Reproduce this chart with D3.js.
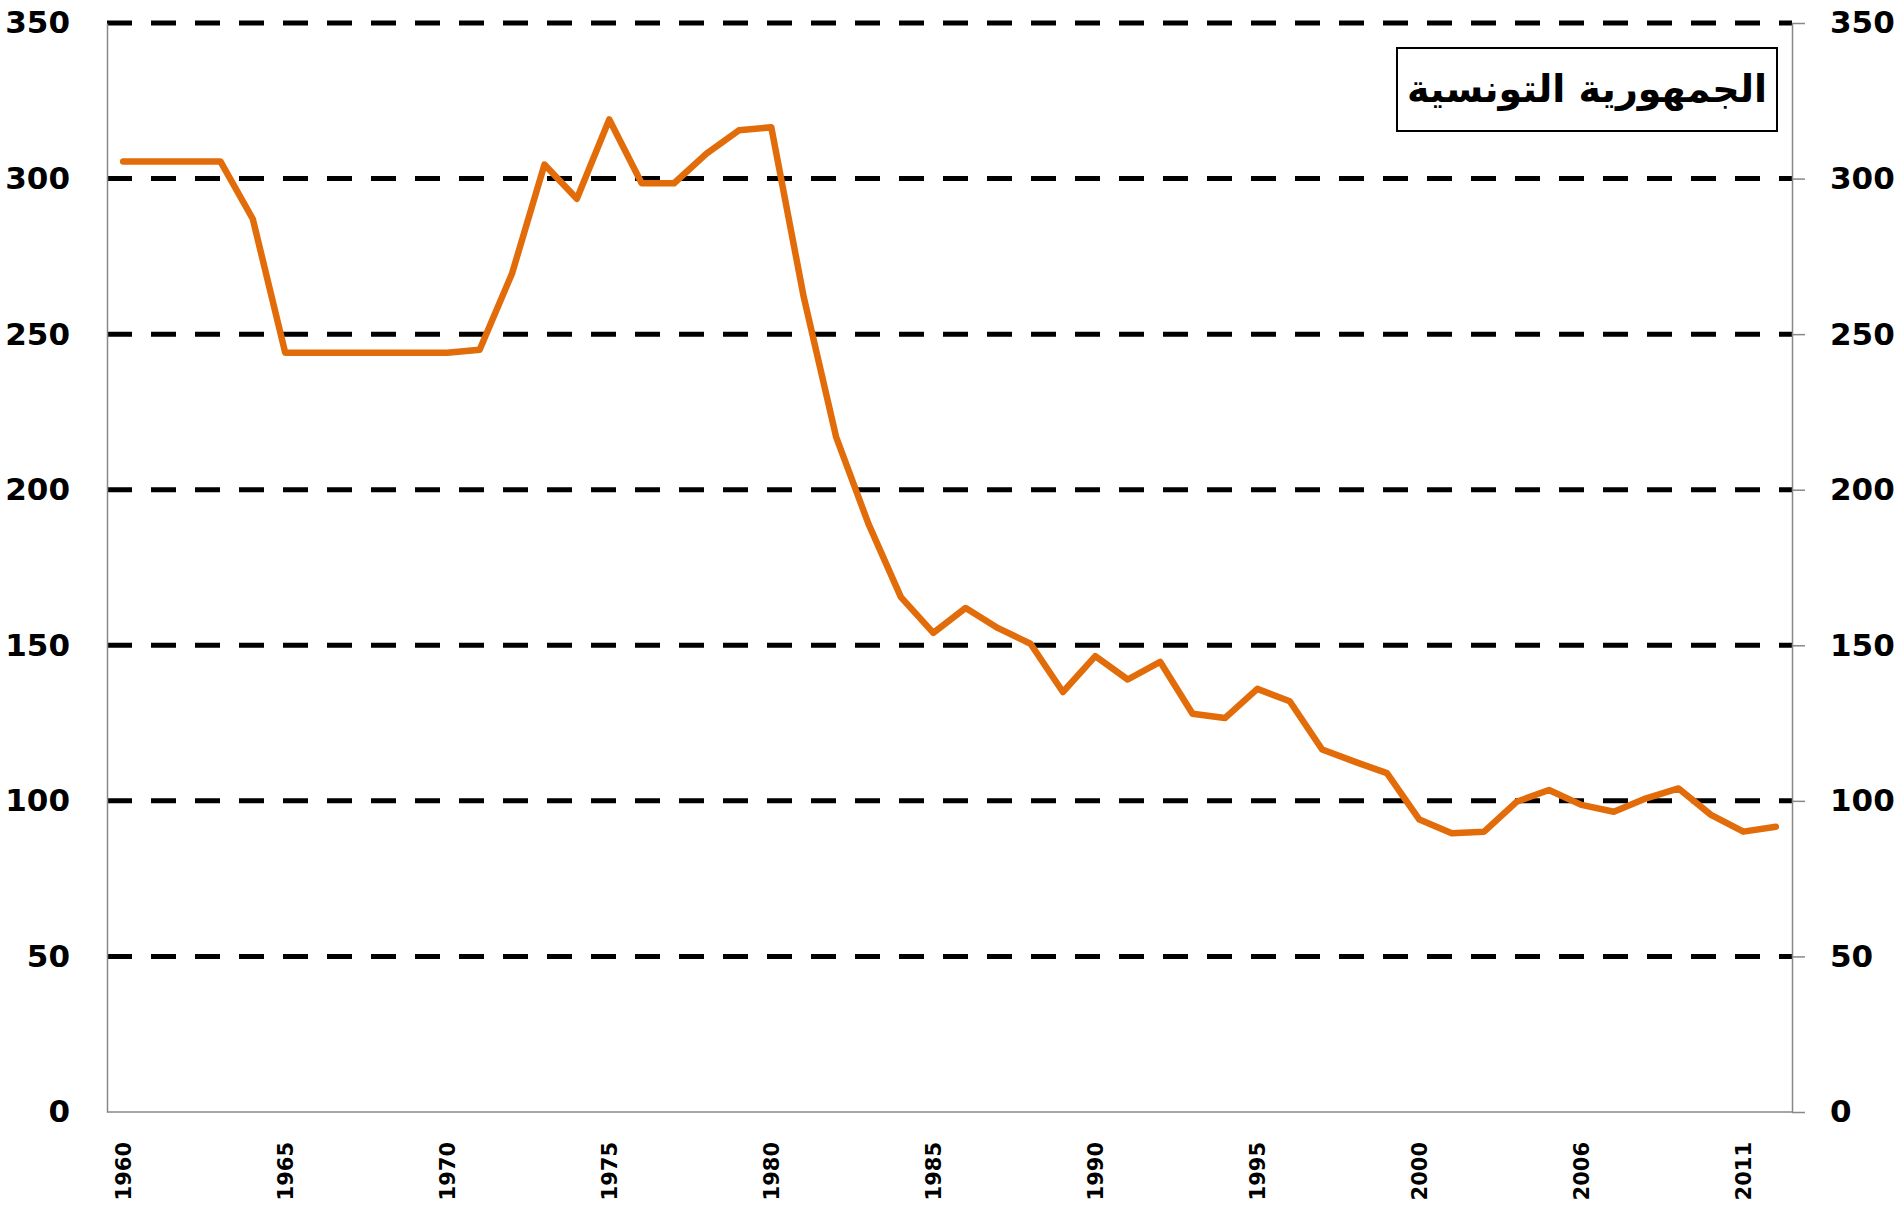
<!DOCTYPE html>
<html>
<head>
<meta charset="utf-8">
<script src="https://cdn.jsdelivr.net/npm/d3@7"></script>
<style>
    body { margin: 0; background: #fff; }
    svg text { font-family: "DejaVu Sans", sans-serif; font-weight: bold; }
</style>
</head>
<body>
<div id="chart"></div>
<script>
// Tunisia series, 1960 - 2012 (2005 missing, so the label after 2000 reads 2006)

const years = d3.range(1960, 2005).map(String)
    .concat(["2006", "2007", "2008", "2009", "2010", "2011", "2012"]); // 52 categories

const values = [305.5, 305.5, 305.5, 305.5, 287, 244, 244, 244, 244, 244,
    244, 245, 269.5, 304.5, 293.5, 319, 298.5, 298.5, 308, 315.5,
    316.5, 262, 217, 189, 165.5, 154, 162, 155.5, 150.5, 135,
    146.5, 139, 144.7, 128, 126.6, 136, 132, 116.5, 112.6, 108.9,
    94, 89.6, 90.1, 99.7, 103.5, 98.7, 96.5, 100.8, 104, 95.5,
    90.1, 91.7];

const yTicks = [0, 50, 100, 150, 200, 250, 300, 350];
const title = "الجمهورية التونسية";

const width = 1903,
    height = 1210,
    margin = ({top: 23, right: 111, bottom: 98, left: 107});

const data = years.map((y, i) => ({year: y, value: values[i]}));

let svg = d3.select("#chart")
    .append("svg")
    .attr("width", width)
    .attr("height", height);

// scales
let x = d3.scalePoint()
    .domain(years)
    .range([margin.left, width - margin.right])
    .padding(0.5);

let y = d3.scaleLinear()
    .domain([0, 350])
    .range([height - margin.bottom, margin.top]);

// dashed grid lines
svg.append("g")
    .selectAll("line")
    .data(yTicks.filter(d => d > 0))
    .join("line")
    .attr("x1", margin.left)
    .attr("x2", width - margin.right)
    .attr("y1", d => y(d))
    .attr("y2", d => y(d))
    .attr("stroke", "#000")
    .attr("stroke-width", 5)
    .attr("stroke-dasharray", "25,19");

// left axis
let left = svg.append("g")
    .attr("transform", `translate(${margin.left},0)`)
    .call(d3.axisLeft(y).tickValues(yTicks).tickSize(0).tickPadding(37));
left.select(".domain").attr("stroke", "#888").attr("stroke-width", 1.5);
left.selectAll("text").style("font-size", "31px").attr("fill", "#000");

// right axis
let right = svg.append("g")
    .attr("transform", `translate(${width - margin.right},0)`)
    .call(d3.axisRight(y).tickValues(yTicks).tickSize(13).tickSizeOuter(0).tickPadding(25));
right.select(".domain").attr("stroke", "#888").attr("stroke-width", 1.5);
right.selectAll(".tick line").attr("stroke", "#888").attr("stroke-width", 1.5);
right.selectAll("text").style("font-size", "31px").attr("fill", "#000");

// bottom axis, every fifth category labelled
let bottom = svg.append("g")
    .attr("transform", `translate(0,${height - margin.bottom})`)
    .call(d3.axisBottom(x).tickValues(years.filter((d, i) => i % 5 === 0)).tickSize(0).tickSizeOuter(0));
bottom.select(".domain")
    .attr("d", `M${margin.left},0H${width - margin.right}`)
    .attr("stroke", "#888").attr("stroke-width", 1.5);
bottom.selectAll("text")
    .attr("transform", "rotate(-90)")
    .attr("x", -30)
    .attr("y", 0)
    .attr("dy", "0.35em")
    .attr("text-anchor", "end")
    .attr("fill", "#000")
    .style("font-size", "21px");

// the line
let line = d3.line()
    .x(d => x(d.year))
    .y(d => y(d.value));

svg.append("path")
    .datum(data)
    .attr("fill", "none")
    .attr("stroke", "#E36C0A")
    .attr("stroke-width", 6.5)
    .attr("stroke-linejoin", "round")
    .attr("stroke-linecap", "round")
    .attr("d", line);

// title box
svg.append("rect")
    .attr("x", 1397)
    .attr("y", 48)
    .attr("width", 380)
    .attr("height", 83)
    .attr("fill", "#fff")
    .attr("stroke", "#000")
    .attr("stroke-width", 2);

let t = svg.append("text")
    .attr("x", 1587)
    .attr("y", 89)
    .attr("dy", "0.35em")
    .attr("text-anchor", "middle")
    .attr("direction", "rtl")
    .style("font-size", "40px")
    .text(title);
let w = t.node().getComputedTextLength();
t.style("font-size", (40 * 360 / w) + "px");
</script>
</body>
</html>
